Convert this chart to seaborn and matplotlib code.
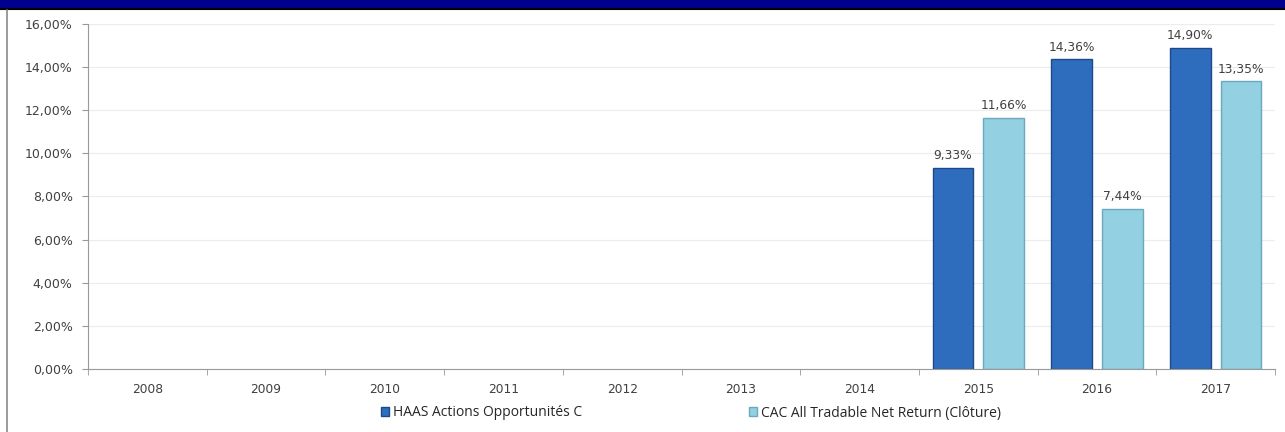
import numpy as np
import pandas as pd
import matplotlib
matplotlib.use("Agg")
import matplotlib.pyplot as plt
import matplotlib.patches as mpatches
from matplotlib.lines import Line2D
import seaborn as sns

# données
years = ["2008", "2009", "2010", "2011", "2012", "2013", "2014", "2015", "2016", "2017"]
haas = [np.nan, np.nan, np.nan, np.nan, np.nan, np.nan, np.nan, 9.33, 14.36, 14.90]
cac = [np.nan, np.nan, np.nan, np.nan, np.nan, np.nan, np.nan, 11.66, 7.44, 13.35]
series = ["HAAS Actions Opportunités C", "CAC All Tradable Net Return (Clôture)"]
y_ticks = [0, 2, 4, 6, 8, 10, 12, 14, 16]

df = pd.DataFrame({
    "annee": years * 2,
    "serie": [series[0]] * len(years) + [series[1]] * len(years),
    "valeur": haas + cac,
})

sns.set_style("white")
plt.rcParams["font.family"] = ["DejaVu Sans"]

fig = plt.figure(figsize=(12.85, 4.32), dpi=100)
ax = fig.add_axes([88 / 1285, 63 / 432, 1187 / 1285, 345 / 432])

colors = ["#2E6DBE", "#93D0E1"]
sns.barplot(data=df, x="annee", y="valeur", hue="serie", order=years,
            hue_order=series, palette=colors, width=0.855, gap=0.2,
            ax=ax, legend=False, saturation=1)

edges = ["#1D4A86", "#6AA9BD"]
for cont, ec in zip(ax.containers, edges):
    for b in cont:
        b.set_edgecolor(ec)
        b.set_linewidth(1.0)
    labels = []
    for v in cont.datavalues:
        labels.append("" if np.isnan(v) else ("%.2f%%" % v).replace(".", ","))
    ax.bar_label(cont, labels=labels, padding=4, fontsize=8.8, color="#404040")

ax.set_ylim(0, 16)
ax.set_xlim(-0.5, 9.5)
ax.set_yticks(y_ticks)
ax.set_yticklabels([("%.2f%%" % t).replace(".", ",") for t in y_ticks])
ax.set_xlabel("")
ax.set_ylabel("")
ax.yaxis.grid(True, color="#ececec", linewidth=0.8)
ax.set_axisbelow(True)
for s in ["top", "right"]:
    ax.spines[s].set_visible(False)
ax.spines["left"].set_color("#999999")
ax.spines["bottom"].set_color("#999999")
ax.tick_params(axis="y", length=4, color="#999999", labelsize=9, labelcolor="#404040",
               left=True, pad=7)
ax.tick_params(axis="x", which="major", length=0, labelsize=8.8, labelcolor="#404040", pad=10)
ax.set_xticks(np.arange(-0.5, 10, 1), minor=True)
ax.tick_params(axis="x", which="minor", length=4, color="#999999", bottom=True)

handles = [mpatches.Patch(facecolor=c, edgecolor=e) for c, e in zip(colors, edges)]
fig.legend(handles, series, loc="center", bbox_to_anchor=(691 / 1285, 19 / 432), ncol=2,
           frameon=False, handlelength=0.6, handleheight=0.6,
           handletextpad=0.3, columnspacing=12.0,
           prop={"family": ["Open Sans", "DejaVu Sans"], "size": 10})

# bandeau du haut et bordure gauche
fig.patches.append(mpatches.Rectangle((0, 1 - 8 / 432), 1, 8 / 432, transform=fig.transFigure,
                                      facecolor="#00008F", edgecolor="none"))
fig.add_artist(Line2D([0, 1], [1 - 9 / 432, 1 - 9 / 432], transform=fig.transFigure,
                      color="black", linewidth=1.5))
fig.add_artist(Line2D([7 / 1285, 7 / 1285], [0, 1 - 10 / 432], transform=fig.transFigure,
                      color="#8a8a8a", linewidth=1.2))

fig.savefig("out.png", dpi=100)
